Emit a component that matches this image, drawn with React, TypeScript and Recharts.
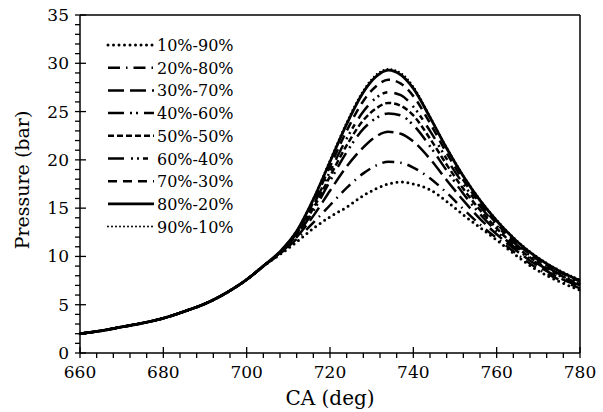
import React from "react";
import { LineChart, Line, XAxis, YAxis, ReferenceLine, Label } from "recharts";

// crank angle stations (deg)
const crankAngle = [
  660, 665, 670, 675, 680, 685, 690, 695, 700, 704, 708, 712, 716, 720, 724,
  728, 731, 734, 737, 740, 744, 748, 752, 756, 760, 765, 770, 775, 780,
];

// compression stroke, identical for every blend (660..704)
const compression = [2.0, 2.3, 2.7, 3.1, 3.6, 4.3, 5.1, 6.2, 7.6, 9.0];

// pressure (bar) after 704 deg, one list per blend
const p1090 = [...compression, 10.2, 11.5, 12.9, 14.1, 15.1, 16.3, 17.0, 17.5, 17.7, 17.5, 16.9, 15.7, 14.3, 13.0, 11.7, 10.0, 8.5, 7.4, 6.5];
const p2080 = [...compression, 10.3, 11.8, 13.5, 15.3, 17.1, 18.6, 19.4, 19.8, 19.7, 19.2, 18.1, 16.6, 14.9, 13.3, 11.9, 10.2, 8.7, 7.6, 6.7];
const p3070 = [...compression, 10.3, 12.0, 14.2, 16.8, 19.3, 21.3, 22.4, 22.9, 22.7, 21.9, 20.1, 17.9, 15.8, 13.9, 12.3, 10.5, 9.0, 7.8, 6.9];
const p4060 = [...compression, 10.4, 12.2, 14.7, 17.8, 20.8, 23.2, 24.3, 24.8, 24.6, 23.6, 21.4, 18.9, 16.5, 14.4, 12.6, 10.7, 9.2, 8.0, 7.0];
const p5050 = [...compression, 10.4, 12.3, 15.0, 18.3, 21.5, 24.1, 25.3, 25.9, 25.6, 24.6, 22.2, 19.5, 17.0, 14.8, 12.9, 10.9, 9.3, 8.1, 7.1];
const p6040 = [...compression, 10.4, 12.4, 15.3, 18.8, 22.2, 25.0, 26.4, 27.0, 26.7, 25.5, 23.0, 20.1, 17.5, 15.2, 13.2, 11.1, 9.5, 8.2, 7.2];
const p7030 = [...compression, 10.5, 12.5, 15.6, 19.3, 23.0, 26.1, 27.6, 28.3, 27.9, 26.6, 23.8, 20.7, 17.9, 15.5, 13.4, 11.3, 9.6, 8.4, 7.4];
const p8020 = [...compression, 10.5, 12.6, 15.9, 19.8, 23.7, 27.0, 28.6, 29.3, 28.8, 27.4, 24.4, 21.2, 18.3, 15.8, 13.7, 11.5, 9.8, 8.5, 7.5];
const p9010 = [...compression, 10.5, 12.7, 16.0, 20.0, 23.9, 27.2, 28.8, 29.4, 29.0, 27.6, 24.5, 21.3, 18.4, 15.9, 13.8, 11.6, 9.9, 8.6, 7.6];

const seriesNames = ["10%-90%", "20%-80%", "30%-70%", "40%-60%", "50%-50%", "60%-40%", "70%-30%", "80%-20%", "90%-10%"];
const seriesValues = [p1090, p2080, p3070, p4060, p5050, p6040, p7030, p8020, p9010];

// line look per blend
const seriesStyle = [
  { dash: "0 5.5", width: 3, cap: "round" },
  { dash: "12 6 1.5 6", width: 2.5, cap: "butt" },
  { dash: "16 6", width: 2.5, cap: "butt" },
  { dash: "16 6 2 4 2 6", width: 2.5, cap: "butt" },
  { dash: "6 3", width: 2.5, cap: "butt" },
  { dash: "16 7 2 4 2 4 5 7", width: 2.5, cap: "butt" },
  { dash: "9 6", width: 2.5, cap: "butt" },
  { dash: undefined, width: 2.8, cap: "butt" },
  { dash: "0 4", width: 2, cap: "round" },
];

const xTicks = Array.from({ length: 31 }, (_, i) => 660 + i * 4);
const yTicks = Array.from({ length: 36 }, (_, i) => i);

const data = crankAngle.map((ca, i) => {
  const row: Record<string, number> = { ca };
  seriesNames.forEach((name, k) => {
    row[name] = seriesValues[k][i];
  });
  return row;
});

const serif: React.CSSProperties = {
  fontFamily: "'DejaVu Serif', serif",
};

const XTick = (props: any) => {
  const { x, y, payload } = props;
  const major = payload.value % 20 === 0;
  return (
    <g>
      <line x1={x} x2={x} y1={major ? y - 6 : y} y2={y + 5} stroke="#000" strokeWidth={1.3} />
      {major && (
        <text x={x} y={y + 25} textAnchor="middle" fontSize={17} style={serif} fill="#000">
          {payload.value}
        </text>
      )}
    </g>
  );
};

const YTick = (props: any) => {
  const { x, y, payload } = props;
  const major = payload.value % 5 === 0;
  return (
    <g>
      <line x1={x - 5} x2={major ? x + 6 : x} y1={y} y2={y} stroke="#000" strokeWidth={1.3} />
      {major && (
        <text x={x - 11} y={y + 6} textAnchor="end" fontSize={17} style={serif} fill="#000">
          {payload.value}
        </text>
      )}
    </g>
  );
};

const PressureLegend = () => (
  <svg
    width={160}
    height={220}
    style={{ position: "absolute", left: 100, top: 34, overflow: "visible" }}
  >
    {seriesNames.map((name, i) => {
      const st = seriesStyle[i];
      const cy = 11 + i * 22.7;
      return (
        <g key={name}>
          <line
            x1={8}
            x2={54}
            y1={cy}
            y2={cy}
            stroke="#000"
            strokeWidth={st.width}
            strokeDasharray={st.dash}
            strokeLinecap={st.cap as any}
          />
          <text x={57} y={cy + 6} fontSize={16} style={serif} fill="#000">
            {name}
          </text>
        </g>
      );
    })}
  </svg>
);

export default function App() {
  return (
    <div style={{ position: "absolute", left: 0, top: 0, width: 603, height: 412, background: "#fff" }}>
      <LineChart
        width={603}
        height={412}
        data={data}
        margin={{ top: 15, right: 23, bottom: 0, left: 0 }}
      >
        <XAxis
          dataKey="ca"
          type="number"
          domain={[660, 780]}
          ticks={xTicks}
          interval={0}
          height={59}
          stroke="#000"
          strokeWidth={1.5}
          tickSize={0}
          tickMargin={0}
          tickLine={false}
          tick={<XTick />}
        >
          <Label
            content={() => (
              <text x={330} y={405} textAnchor="middle" fontSize={20} style={serif} fill="#000">
                CA (deg)
              </text>
            )}
          />
        </XAxis>
        <YAxis
          type="number"
          domain={[0, 35]}
          ticks={yTicks}
          interval={0}
          width={80}
          stroke="#000"
          strokeWidth={1.5}
          tickSize={0}
          tickMargin={0}
          tickLine={false}
          tick={<YTick />}
        >
          <Label
            content={() => (
              <text
                x={22}
                y={180}
                textAnchor="middle"
                dominantBaseline="central"
                transform="rotate(-90, 22, 180)"
                fontSize={19}
                style={serif}
                fill="#000"
              >
                Pressure (bar)
              </text>
            )}
          />
        </YAxis>
        <ReferenceLine y={35} stroke="#000" strokeWidth={1.5} />
        <ReferenceLine x={780} stroke="#000" strokeWidth={1.5} />
        {seriesNames.map((name, i) => (
          <Line
            key={name}
            dataKey={name}
            type="monotone"
            stroke="#000"
            strokeWidth={seriesStyle[i].width}
            strokeDasharray={seriesStyle[i].dash}
            strokeLinecap={seriesStyle[i].cap as any}
            dot={false}
            activeDot={false}
            isAnimationActive={false}
          />
        ))}
      </LineChart>
      <PressureLegend />
    </div>
  );
}
